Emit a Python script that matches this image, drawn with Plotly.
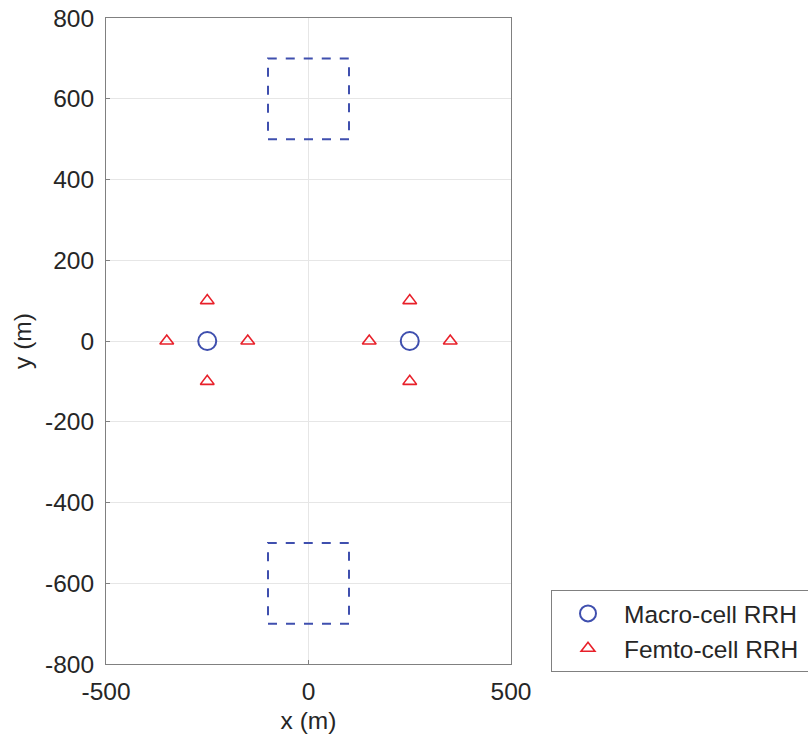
import plotly.graph_objects as go

macro_x = [-250, 250]
macro_y = [0, 0]
femto_x = [-350, -150, -250, -250, 150, 350, 250, 250]
femto_y = [0, 0, 100, -100, 0, 0, 100, -100]
rects = [(-100, 500, 100, 700), (-100, -700, 100, -500)]
xticks = [-500, 0, 500]
yticks = [-800, -600, -400, -200, 0, 200, 400, 600, 800]

blue = "#3f4fae"
red = "#e8202a"
font = "Liberation Sans, Arial, Helvetica, sans-serif"
fs = 24.5

fig = go.Figure()
for (x0, y0, x1, y1) in rects:
    fig.add_trace(go.Scatter(x=[x0, x1, x1, x0, x0], y=[y0, y0, y1, y1, y0], mode="lines",
                             line=dict(color=blue, width=2, dash="dash"), showlegend=False,
                             hoverinfo="skip"))
fig.add_trace(go.Scatter(x=macro_x, y=macro_y, mode="markers", name="Macro-cell RRH\u00a0",
                         marker=dict(symbol="circle-open", size=18, color=blue, line=dict(width=2, color=blue))))
fig.add_trace(go.Scatter(x=femto_x, y=femto_y, mode="markers", name="Femto-cell RRH\u00a0",
                         marker=dict(symbol="triangle-up-open", size=12, color=red, line=dict(width=1.6, color=red))))

axis_common = dict(showline=True, linecolor="#808080", linewidth=1, mirror=True,
                   showgrid=True, gridcolor="#e6e6e6", gridwidth=1, zeroline=False,
                   ticks="inside", ticklen=4, tickcolor="#808080",
                   tickfont=dict(family=font, size=fs, color="#262626"))
fig.update_xaxes(range=[-500, 500], tickvals=xticks, ticktext=[str(v) for v in xticks],
                 ticklabelstandoff=6,
                 title=dict(text="x (m)", font=dict(family=font, size=fs, color="#262626"), standoff=7),
                 **axis_common)
fig.update_yaxes(range=[-800, 800], tickvals=yticks, ticktext=[str(v) for v in yticks],
                 ticklabelstandoff=6,
                 title=dict(text="y (m)", font=dict(family=font, size=fs, color="#262626"), standoff=6),
                 **axis_common)

fig.update_layout(
    width=808, height=740,
    margin=dict(l=106, r=297, t=18, b=76, autoexpand=False),
    plot_bgcolor="white", paper_bgcolor="white",
    font=dict(family=font, color="#262626"),
    legend=dict(x=(551 - 106) / 405, y=(664 - 590) / 646, xanchor="left", yanchor="top",
                bordercolor="#808080", borderwidth=1, bgcolor="white",
                font=dict(family=font, size=fs, color="#262626"), itemwidth=62),
)
fig.write_html("out.html")
